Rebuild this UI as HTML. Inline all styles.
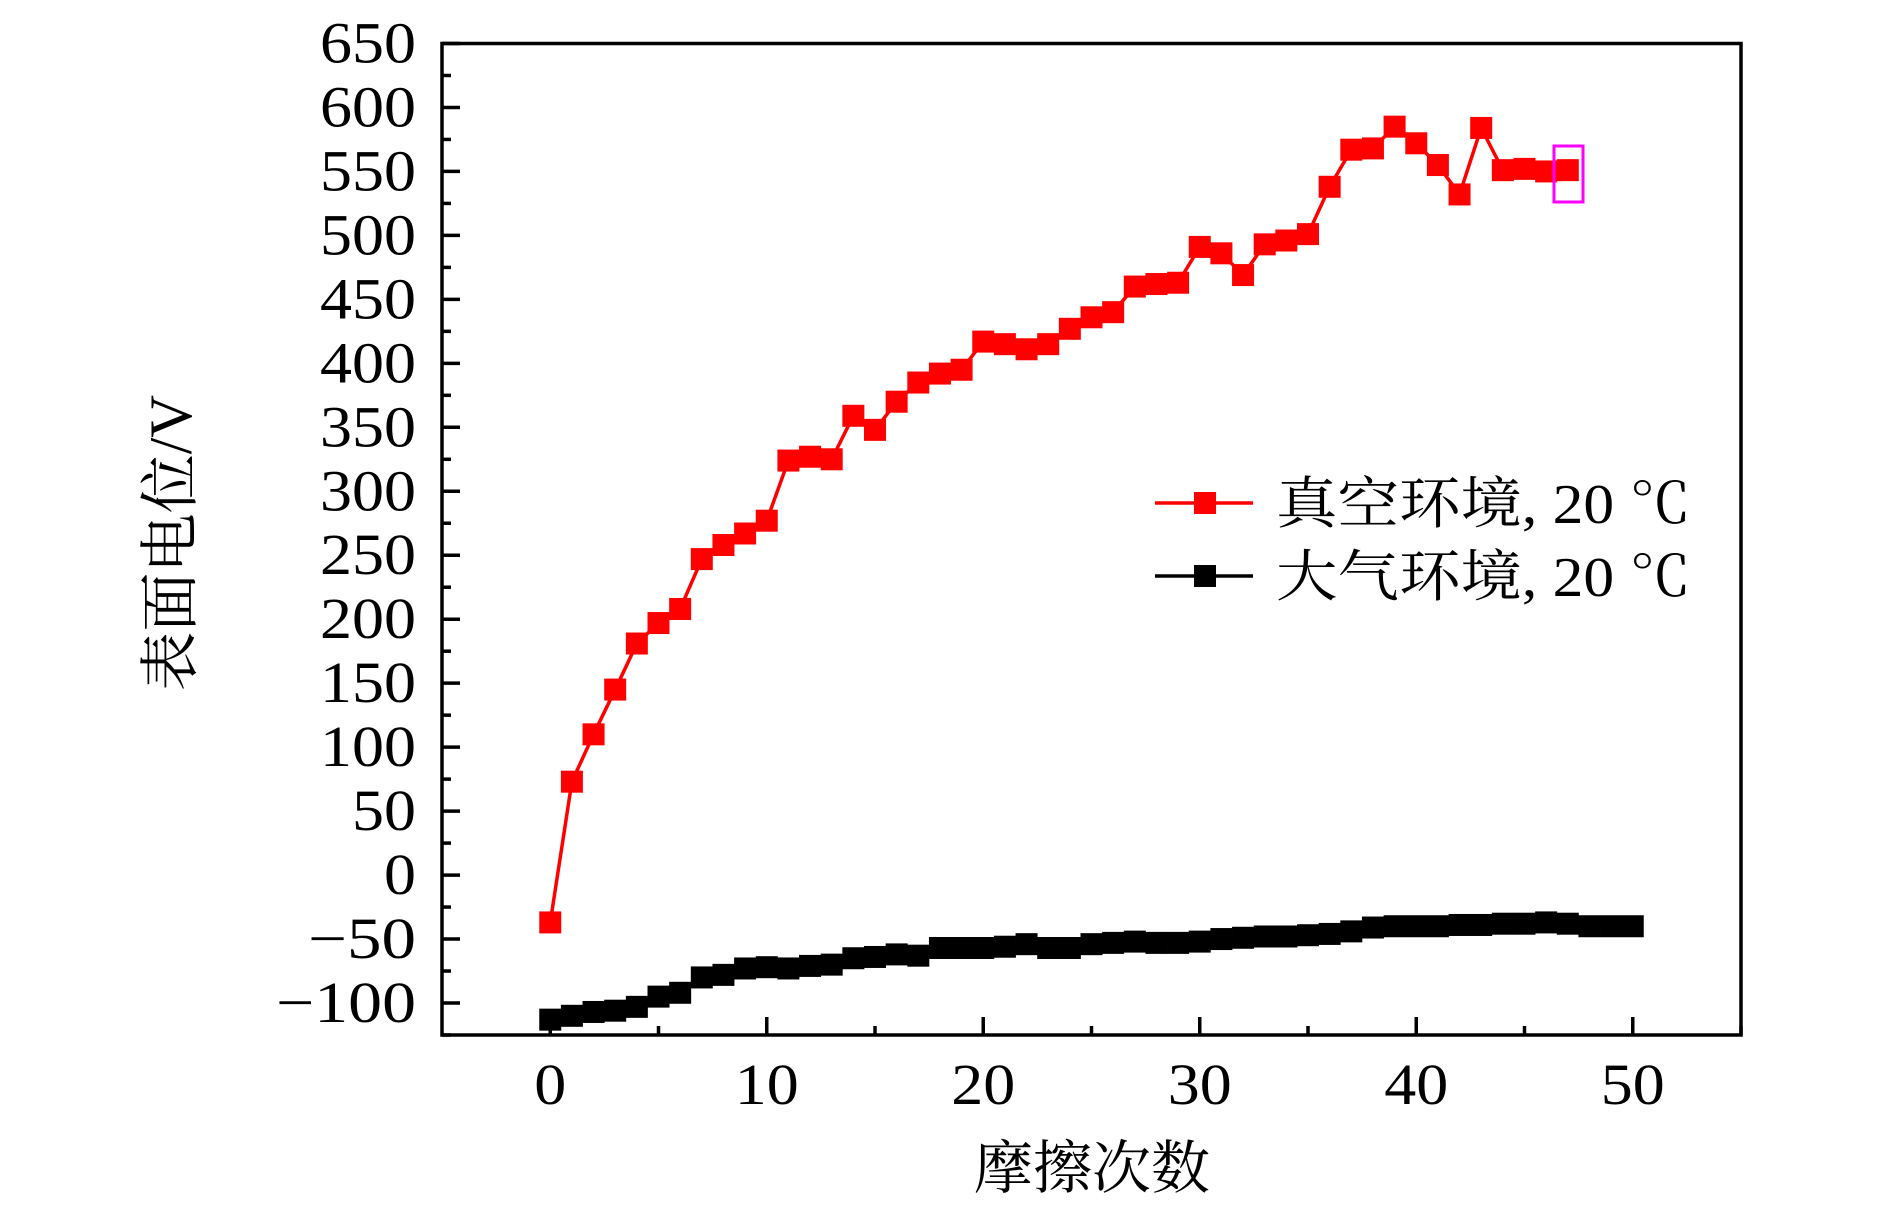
<!DOCTYPE html>
<html><head><meta charset="utf-8"><style>
html,body{margin:0;padding:0;background:#fff;}
svg{display:block;}
text{font-family:"Liberation Serif","Noto Serif CJK SC",serif;fill:#000;}
</style></head><body>
<svg id="chart" width="1890" height="1217" viewBox="0 0 1890 1217" xmlns="http://www.w3.org/2000/svg">
<rect width="1890" height="1217" fill="#fff"/>
<g id="grid"></g>
<g id="series"></g>
<rect x="442" y="43.5" width="1299" height="991.5" fill="none" stroke="#000" stroke-width="3.5"/>
<text transform="translate(177,543) rotate(-90)" text-anchor="middle" font-size="60" font-family="Noto Serif CJK SC, serif" dominant-baseline="middle" textLength="296" lengthAdjust="spacingAndGlyphs">表面电位/V</text>
<text x="1092" y="1188" text-anchor="middle" font-size="58" font-family="Noto Serif CJK SC, serif" textLength="236" lengthAdjust="spacingAndGlyphs">摩擦次数</text>
<g>
<line x1="1155" y1="503" x2="1253" y2="503" stroke="#ff0000" stroke-width="3.5"/>
<rect x="1194" y="492" width="22" height="22" fill="#ff0000"/>
<text x="1276" y="523" font-size="56" textLength="415" lengthAdjust="spacingAndGlyphs">真空环境, 20 ℃</text>
<line x1="1155" y1="576" x2="1253" y2="576" stroke="#000" stroke-width="3.5"/>
<rect x="1194" y="565" width="22" height="22" fill="#000"/>
<text x="1276" y="596" font-size="56" textLength="415" lengthAdjust="spacingAndGlyphs">大气环境, 20 ℃</text>
</g>
<rect x="1554" y="146" width="29" height="56" fill="none" stroke="#ff00ff" stroke-width="3"/>
</svg>
<script>
const vacuumValues = [-37,73,110,145,181,197,208,247,258,267,277,324,327,325,359,348,370,385,392,395,417,415,411,415,427,436,440,460,462,463,491,486,469,493,496,501,538,567,568,585,572,555,532,584,551,552,550,551];
const airValues = [-113,-110,-107,-106,-103,-95,-92,-80,-78,-73,-72,-73,-71,-70,-65,-64,-62,-63,-57,-57,-57,-56,-54,-57,-57,-54,-53,-52,-53,-53,-52,-50,-49,-48,-48,-47,-46,-44,-41,-40,-40,-40,-39,-39,-38,-38,-37,-38,-40,-40,-40];
const xTicks = [0,10,20,30,40,50];
const yTicks = [-100,-50,0,50,100,150,200,250,300,350,400,450,500,550,600,650];

const NS = "http://www.w3.org/2000/svg";
const X0 = 442, X1 = 1741, XMIN = -5, XMAX = 55;
const Y0 = 1035, Y1 = 43.5, YMIN = -125, YMAX = 650;
function sx(v){ return X0 + (v - XMIN) / (XMAX - XMIN) * (X1 - X0); }
function sy(v){ return Y0 - (v - YMIN) / (YMAX - YMIN) * (Y0 - Y1); }
function mk(tag, attrs, parent){ const e = document.createElementNS(NS, tag); for (const k in attrs) e.setAttribute(k, attrs[k]); parent.appendChild(e); return e; }
function labelWidth(s){ let w = 0; for (const c of s) w += (c === '\u2212') ? 44 : 32; return w; }

const grid = document.getElementById('grid');
yTicks.forEach(v => {
  const y = sy(v);
  const t = mk('line', {x1: X0, y1: y, x2: X0 + 18, y2: y, stroke: '#000', 'stroke-width': 3.5}, grid);
  
  
  const m = mk('line', {x1: X0, y1: sy(v - 25), x2: X0 + 9, y2: sy(v - 25), stroke: '#000', 'stroke-width': 3.5}, grid);
  
  
  const s = v < 0 ? '\u2212' + Math.abs(v) : String(v);
  const lbl = mk('text', {x: 416, y: y + 19, 'text-anchor': 'end', 'font-size': 58, textLength: labelWidth(s), lengthAdjust: 'spacingAndGlyphs'}, grid);
  lbl.textContent = s;
  
  
});
xTicks.forEach(v => {
  const x = sx(v);
  const t = mk('line', {x1: x, y1: Y0, x2: x, y2: Y0 - 18, stroke: '#000', 'stroke-width': 3.5}, grid);
  
  
  const m = mk('line', {x1: sx(v + 5), y1: Y0, x2: sx(v + 5), y2: Y0 - 9, stroke: '#000', 'stroke-width': 3.5}, grid);
  
  
  const s = String(v);
  const lbl = mk('text', {x: x, y: 1104, 'text-anchor': 'middle', 'font-size': 58, textLength: labelWidth(s), lengthAdjust: 'spacingAndGlyphs'}, grid);
  lbl.textContent = s;
  
  
});

const series = document.getElementById('series');
function drawSeries(vals, color, name){
  const pts = vals.map((v, i) => sx(i) + ',' + sy(v)).join(' ');
  const pl = mk('polyline', {points: pts, fill: 'none', stroke: color, 'stroke-width': 3.5}, series);
  
  
  vals.forEach((v, i) => {
    const r = mk('rect', {x: sx(i) - 11, y: sy(v) - 11, width: 22, height: 22, fill: color}, series);
    
    
  });
}
drawSeries(airValues, '#000', 'air');
drawSeries(vacuumValues, '#ff0000', 'vacuum');
</script>
</body></html>
